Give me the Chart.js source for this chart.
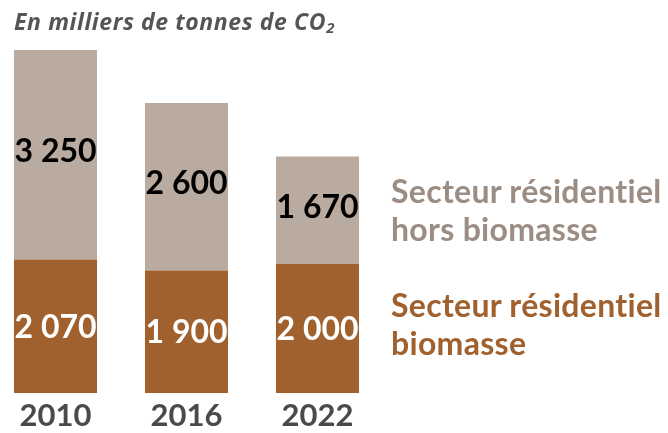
<!DOCTYPE html>
<html>
<head>
<meta charset="utf-8">
<script src="https://cdn.jsdelivr.net/npm/chart.js@4"></script>
<style>
body{margin:0;background:#fff;width:668px;height:433px;overflow:hidden;position:relative;font-family:Lato,"Open Sans",sans-serif;}
#c{position:absolute;left:-10px;top:0;}
#title{position:absolute;left:14px;top:5px;font-family:"Open Sans",sans-serif;font-size:23px;line-height:32px;font-style:italic;font-weight:700;color:#555;letter-spacing:0.6px;white-space:nowrap;}
#title sub{font-size:15px;vertical-align:-3px;line-height:0;}
.leg{position:absolute;left:391px;font-size:32px;font-weight:700;line-height:38px;white-space:nowrap;letter-spacing:0.3px;}
#leg1{top:172px;color:#9b8d83;}
#leg2{top:286px;color:#a0612e;}
</style>
</head>
<body>
<canvas id="c" width="678" height="433"></canvas>
<div id="title">En milliers de tonnes de CO<sub>2</sub></div>
<div class="leg" id="leg1">Secteur résidentiel<br>hors biomasse</div>
<div class="leg" id="leg2">Secteur résidentiel<br>biomasse</div>
<script>
/* data */
var years = ["2010","2016","2022"];
var biomasse = [2070, 1900, 2000];
var horsBiomasse = [3250, 2600, 1670];

var brown = "#a0612e";
var beige = "#baaba0";

function fmt(v){
var s = String(v);
if(s.length > 3){ s = s.slice(0, s.length-3) + "\u202F" + s.slice(s.length-3); }
return s;
}

/* labels inside bars + year labels under them */
var labelPlugin = {
id:"labels",
afterDatasetsDraw:function(chart){
var ctx = chart.ctx;
ctx.save();
ctx.textAlign = "center";
ctx.textBaseline = "middle";
ctx.font = "700 32px Lato";
chart.data.datasets.forEach(function(ds, i){
var meta = chart.getDatasetMeta(i);
meta.data.forEach(function(bar, j){
ctx.fillStyle = ds.labelColor;
ctx.fillText(fmt(ds.data[j]), bar.x, (bar.y + bar.base)/2 + ds.labelShift);
});
});
var xs = chart.scales.x;
ctx.fillStyle = "#4a4a4a";
ctx.font = "700 31px Lato";
years.forEach(function(y, j){
ctx.fillText(y, xs.getPixelForValue(j), 416);
});
ctx.restore();
}
};

new Chart(document.getElementById("c"), {
type:"bar",
data:{
labels:years,
datasets:[
{label:"Secteur résidentiel biomasse", data:biomasse, backgroundColor:brown, labelColor:"#ffffff", labelShift:1, barPercentage:0.634, categoryPercentage:1},
{label:"Secteur résidentiel hors biomasse", data:horsBiomasse, backgroundColor:beige, labelColor:"#000000", labelShift:-3, barPercentage:0.634, categoryPercentage:1}
]
},
options:{
responsive:false,
animation:false,
devicePixelRatio:1,
layout:{padding:{left:0, right:285, top:32, bottom:40}},
plugins:{legend:{display:false}, tooltip:{enabled:false}, title:{display:false}},
scales:{
x:{stacked:true, display:false},
y:{stacked:true, display:false, min:0, max:5600}
}
},
plugins:[labelPlugin]
});
</script>
</body>
</html>
